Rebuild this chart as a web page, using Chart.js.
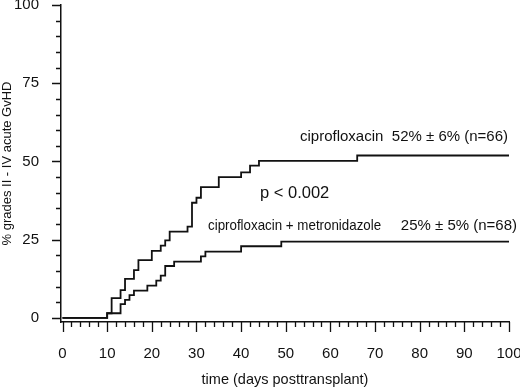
<!DOCTYPE html>
<html>
<head>
<meta charset="utf-8">
<script src="https://cdn.jsdelivr.net/npm/chart.js@4"></script>
<style>
  html, body { margin: 0; padding: 0; background: #fff; }
  #wrap { width: 520px; height: 392px; }
</style>
</head>
<body>
<div id="wrap"><canvas id="gvhd" width="520" height="392"></canvas></div>
<script>
// cumulative incidence (day, % after the step)
var ciproDays = [0, 10, 11, 13, 14, 16, 17, 20, 22, 23, 24, 28, 29, 30, 31, 35, 40, 42, 44, 66, 100];
var ciproPct  = [0, 1.5, 6.3, 8.9, 12.5, 15.3, 18.5, 21.4, 23.1, 24.8, 27.6, 29.2, 36.8, 38.4, 41.8, 45.0, 46.5, 48.7, 50.2, 51.9, 51.9];

var comboDays = [0, 10, 13, 14, 15, 16, 19, 21, 22, 23, 25, 31, 32, 40, 49, 100];
var comboPct  = [0, 1.5, 4.4, 5.8, 7.3, 8.7, 10.3, 11.9, 13.5, 16.6, 18.0, 19.7, 21.2, 22.9, 24.4, 24.4];

var xTicks = [0, 10, 20, 30, 40, 50, 60, 70, 80, 90, 100];
var yTicks = [0, 25, 50, 75, 100];

var FONT = "'Liberation Sans', Arial, Helvetica, sans-serif";
var INK = '#111';

function toPoints(days, pct) {
    return days.map(function (d, i) { return { x: d, y: pct[i] }; });
}

// text squeezed a little horizontally, the original lettering is narrow
function narrowText(ctx, txt, x, y, sx) {
    ctx.save();
    ctx.translate(x, y);
    ctx.scale(sx, 1);
    ctx.fillText(txt, 0, 0);
    ctx.restore();
}

// tick marks (long majors, short minors) and the text labels in the plot
var decor = {
    id: 'decor',
    afterDraw: function (chart) {
        var ctx = chart.ctx;
        var xs = chart.scales.x, ys = chart.scales.y;
        var area = chart.chartArea;
        ctx.save();
        ctx.strokeStyle = INK;
        ctx.lineWidth = 1.3;
        ctx.beginPath();
        for (var v = 0; v <= 100; v += 2) {
            var px = Math.round(xs.getPixelForValue(v)) + 0.5;
            var len = (v % 10 === 0) ? 10 : 5;
            ctx.moveTo(px, area.bottom);
            ctx.lineTo(px, area.bottom + len);
        }
        for (var w = 0; w <= 100; w += 5) {
            var py = Math.round(ys.getPixelForValue(w)) + 0.5;
            var l = (w % 25 === 0) ? 9 : 5;
            ctx.moveTo(area.left, py);
            ctx.lineTo(area.left - l, py);
        }
        ctx.stroke();

        ctx.fillStyle = INK;
        ctx.textBaseline = 'middle';
        ctx.textAlign = 'left';
        ctx.font = '15px ' + FONT;
        ctx.fillText('ciprofloxacin', 300, 137);
        ctx.font = '14.5px ' + FONT;
        narrowText(ctx, 'ciprofloxacin + metronidazole', 208, 226, 0.92);
        ctx.textAlign = 'right';
        ctx.font = '15px ' + FONT;
        ctx.fillText('52% \u00b1 6% (n=66)', 508, 137);
        ctx.fillText('25% \u00b1 5% (n=68)', 517, 226);
        ctx.textAlign = 'left';
        ctx.font = '16.5px ' + FONT;
        ctx.fillText('p < 0.002', 260, 193);
        ctx.restore();
    }
};

var ctx = document.getElementById('gvhd').getContext('2d');
var chart = new Chart(ctx, {
    type: 'line',
    data: {
        datasets: [{
            label: 'ciprofloxacin',
            data: toPoints(ciproDays, ciproPct),
            stepped: 'before',
            borderColor: INK,
            borderWidth: 1.8,
            pointRadius: 0,
            fill: false
        }, {
            label: 'ciprofloxacin + metronidazole',
            data: toPoints(comboDays, comboPct),
            stepped: 'before',
            borderColor: INK,
            borderWidth: 1.8,
            pointRadius: 0,
            fill: false
        }]
    },
    options: {
        responsive: false,
        animation: false,
        layout: { padding: { top: 5, right: 11, left: 0, bottom: 0 } },
        plugins: { legend: { display: false }, tooltip: { enabled: false } },
        scales: {
            x: {
                type: 'linear',
                min: -0.34,
                max: 100,
                afterFit: function (s) {
                    s.height = 70;
                    s.paddingLeft = 0; s.paddingRight = 0;
                },
                afterBuildTicks: function (s) { s.ticks = xTicks.map(function (v) { return { value: v }; }); },
                grid: { display: false },
                border: { display: true, color: INK, width: 1.5 },
                ticks: { color: INK, padding: 15, maxRotation: 0, font: { family: FONT, size: 15 } },
                title: { display: true, text: 'time (days posttransplant)', color: INK,
                         padding: { top: 0, bottom: 3 }, font: { family: FONT, size: 14.5 } }
            },
            y: {
                type: 'linear',
                min: -1.3,
                max: 100,
                afterFit: function (s) {
                    s.width = 61;
                    s.paddingTop = 0; s.paddingBottom = 0;
                },
                afterBuildTicks: function (s) { s.ticks = yTicks.map(function (v) { return { value: v }; }); },
                grid: { display: false },
                border: { display: true, color: INK, width: 1.5 },
                ticks: { color: INK, padding: 14, font: { family: FONT, size: 15 } },
                title: { display: true, text: '% grades II - IV acute GvHD', color: INK,
                         padding: { top: 0, bottom: 0 }, font: { family: FONT, size: 13 } }
            }
        }
    },
    plugins: [decor]
});
</script>
</body>
</html>
